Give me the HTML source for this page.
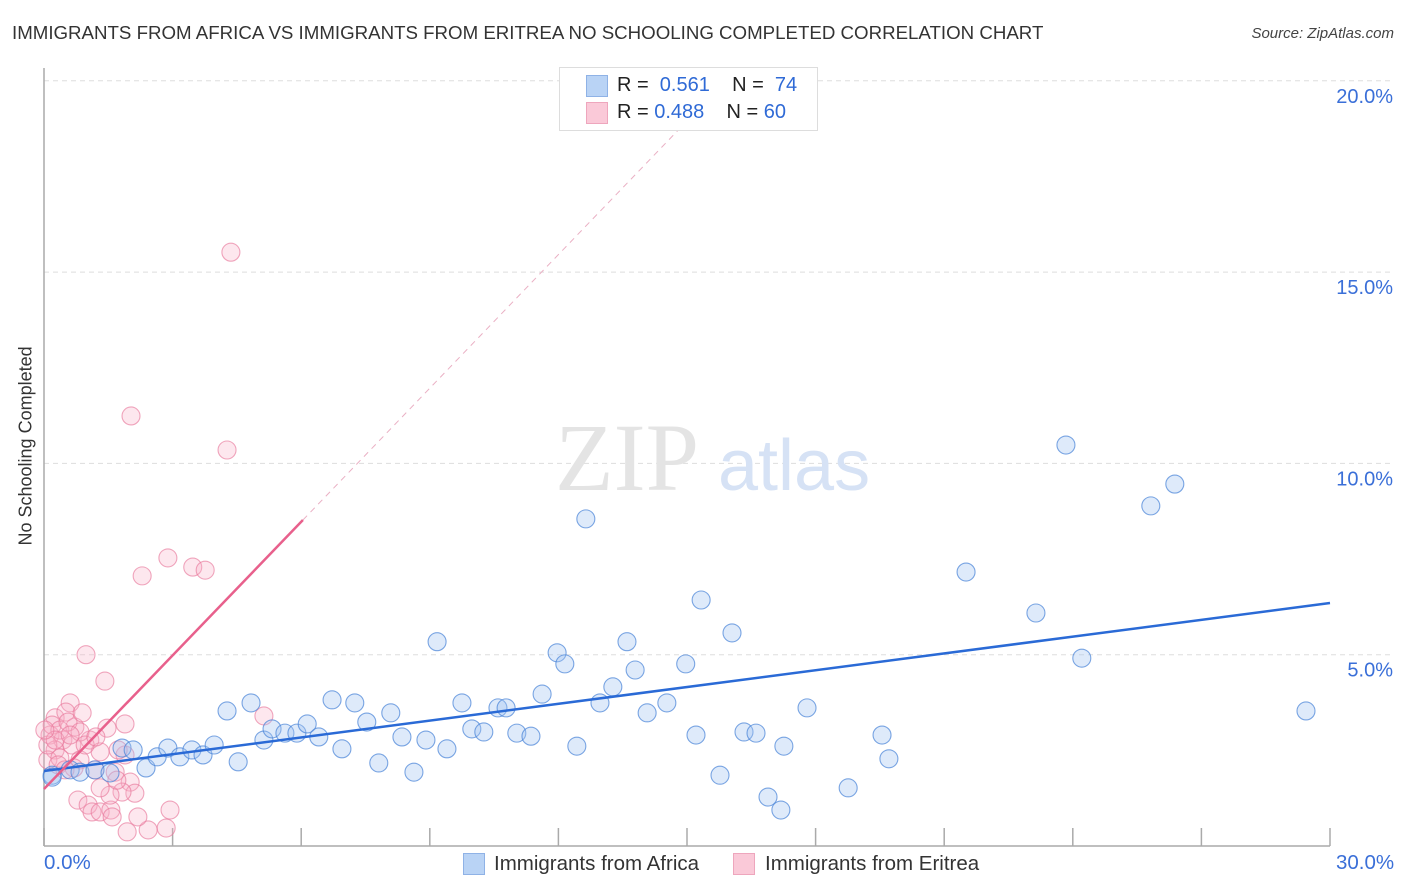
<!DOCTYPE html>
<html><head><meta charset="utf-8">
<style>
body{margin:0;background:#fff;font-family:"Liberation Sans",sans-serif;}
#wrap{position:relative;width:1406px;height:892px;}
.t{position:absolute;white-space:nowrap;}
</style></head>
<body>
<div id="wrap">
<div class="t" style="left:12px;top:22px;font-size:18.7px;color:#333;">IMMIGRANTS FROM AFRICA VS IMMIGRANTS FROM ERITREA NO SCHOOLING COMPLETED CORRELATION CHART</div>
<div class="t" style="right:12px;top:25px;font-size:15px;color:#444;font-style:italic;">Source: ZipAtlas.com</div>
<svg id="svg" width="1406" height="892" style="position:absolute;left:0;top:0"></svg>
</div>
<script>
const xTicks=[0,3,6,9,12,15,18,21,24,27,30];
const yTicks=[5,10,15,20];
const yTickLabels=["5.0%","10.0%","15.0%","20.0%"];
const africaX=[0.19,0.61,0.84,1.19,1.54,1.82,2.08,2.38,2.64,2.89,3.17,3.45,3.71,3.97,4.53,4.27,4.83,5.13,5.32,5.62,5.90,6.14,6.41,6.72,6.95,7.25,7.53,7.81,8.09,8.35,8.63,8.91,9.17,9.40,9.75,9.98,10.26,10.59,10.78,11.03,11.36,11.62,11.97,12.15,12.43,12.64,12.97,13.27,13.60,13.79,14.07,14.53,14.97,15.21,15.33,15.77,16.05,16.33,16.61,16.89,17.19,17.26,17.80,18.76,19.55,19.71,21.51,23.14,23.84,24.21,25.82,26.38,29.44,0.19];
const africaY=[1.85,1.99,1.93,1.99,1.91,2.56,2.51,2.04,2.33,2.56,2.33,2.51,2.38,2.64,2.20,3.53,3.74,2.77,3.06,2.95,2.95,3.19,2.85,3.82,2.54,3.74,3.24,2.17,3.48,2.85,1.93,2.77,5.34,2.54,3.74,3.06,2.98,3.61,3.61,2.95,2.87,3.97,5.05,4.76,2.61,8.55,3.74,4.16,5.34,4.60,3.48,3.74,4.76,2.90,6.43,1.85,5.57,2.98,2.95,1.28,0.94,2.61,3.61,1.52,2.90,2.28,7.16,6.09,10.48,4.91,8.89,9.46,3.53,1.80];
const eritreaX=[4.36,2.03,4.27,2.89,2.29,3.47,3.76,0.98,1.42,0.61,5.13,0.26,0.51,1.47,0.72,0.14,0.44,1.07,0.26,0.65,1.31,1.89,0.09,0.37,0.84,1.19,1.66,0.79,1.03,1.12,1.31,1.56,2.01,2.12,1.82,1.59,1.94,2.43,2.19,2.85,2.94,0.09,0.19,0.37,0.56,0.84,0.96,0.33,0.70,1.54,1.31,1.70,0.49,0.26,0.61,0.02,0.89,1.21,1.73,1.89];
const eritreaY=[15.52,11.24,10.35,7.53,7.06,7.29,7.21,5.00,4.31,3.74,3.40,3.35,3.50,3.08,3.11,2.90,2.77,2.77,2.51,2.64,2.46,2.38,2.25,2.30,2.25,1.99,1.93,1.20,1.07,0.89,0.89,0.94,1.67,1.38,1.41,0.76,0.37,0.42,0.76,0.47,0.94,2.64,3.16,3.03,3.24,2.98,2.64,2.12,2.04,1.33,1.52,1.72,1.99,2.77,2.90,3.03,3.48,2.85,2.51,3.19];
const africaLine=[1.96,6.35];
const eritreaLine=[1.49,1.164];
const X0=44,X1=1330,Y0=846,PY=38.26;
const sx=v=>X0+(v/30)*(X1-X0);
const sy=v=>Y0-v*PY;
const svg=document.getElementById('svg');
const NS='http://www.w3.org/2000/svg';
function mk(tag,at){const e=document.createElementNS(NS,tag);for(const k in at)e.setAttribute(k,at[k]);svg.appendChild(e);return e;}
yTicks.forEach((v,i)=>{
 const g=mk('line',{x1:X0,x2:1392,y1:sy(v),y2:sy(v),stroke:'#ddd','stroke-dasharray':'5,4'});
 
 
 const t=mk('text',{x:1393,y:sy(v)+22,'text-anchor':'end','font-size':20,fill:'#3a6fd8','font-family':'Liberation Sans'});
 t.textContent=yTickLabels[i];
 
 
});
const ya=mk('line',{x1:X0,x2:X0,y1:68,y2:Y0,stroke:'#aaa','stroke-width':1.5});


const xa=mk('line',{x1:X0,x2:X1,y1:Y0,y2:Y0,stroke:'#aaa','stroke-width':1.5});


xTicks.forEach(v=>{
 const l=mk('line',{x1:sx(v),x2:sx(v),y1:Y0,y2:Y0-18,stroke:'#aaa','stroke-width':1.5});
 
 
});
const w1=mk('text',{x:555,y:490,'font-size':96,fill:'#e4e4e4','font-family':'Liberation Serif'});w1.textContent='ZIP';


const w2=mk('text',{x:718,y:490,'font-size':72,fill:'#d6e2f5','font-family':'Liberation Sans'});w2.textContent='atlas';


function pts(xs,ys,fill,stroke,name){xs.forEach((x,i)=>{
 const c=mk('circle',{cx:sx(x),cy:sy(ys[i]),r:9,fill:fill,stroke:stroke,'stroke-width':1.1});
 
 
});}
pts(eritreaX,eritreaY,'rgba(248,175,198,0.3)','rgba(232,120,155,0.65)','eritrea-point');
pts(africaX,africaY,'rgba(160,195,240,0.35)','rgba(70,130,215,0.7)','africa-point');
const bl=mk('line',{x1:sx(0),y1:sy(africaLine[0]),x2:sx(30),y2:sy(africaLine[1]),stroke:'#2a6ad6','stroke-width':2.5});


const xe=6.04;
const pl=mk('line',{x1:sx(0),y1:sy(eritreaLine[0]),x2:sx(xe),y2:sy(eritreaLine[0]+eritreaLine[1]*xe),stroke:'#e8608c','stroke-width':2.5});


const xd=14.8;
const pd=mk('line',{x1:sx(xe),y1:sy(eritreaLine[0]+eritreaLine[1]*xe),x2:sx(xd),y2:sy(eritreaLine[0]+eritreaLine[1]*xd),stroke:'#eab0c4','stroke-width':1,'stroke-dasharray':'6,5'});


</script>
<div class="t" style="left:559px;top:67px;width:257px;height:62px;border:1px solid #ddd;background:#fff;"></div>
<div class="t" style="left:586px;top:75px;width:20px;height:20px;background:#b9d3f5;border:1px solid #8fb2e6;"></div>
<div class="t" style="left:586px;top:102px;width:20px;height:20px;background:#fac9d8;border:1px solid #eea6bd;"></div>
<div class="t" style="left:617px;top:74px;font-size:20px;color:#222;">R = &nbsp;<span style="color:#2f6ad6">0.561</span>&nbsp;&nbsp;&nbsp; N = &nbsp;<span style="color:#2f6ad6">74</span></div>
<div class="t" style="left:617px;top:101px;font-size:20px;color:#222;">R = <span style="color:#2f6ad6">0.488</span>&nbsp;&nbsp;&nbsp; N = <span style="color:#2f6ad6">60</span></div>
<div class="t" style="left:-64px;top:445px;font-size:18px;color:#333;transform:rotate(-90deg);width:180px;text-align:center;">No Schooling Completed</div>
<div class="t" style="left:44px;top:851px;font-size:20.5px;color:#3a6fd8;">0.0%</div>
<div class="t" style="left:1336px;top:851px;font-size:20.5px;color:#3a6fd8;">30.0%</div>
<div class="t" style="left:463px;top:853px;width:20px;height:20px;background:#b9d3f5;border:1px solid #8fb2e6;"></div>
<div class="t" style="left:494px;top:852px;font-size:20.5px;color:#333;">Immigrants from Africa</div>
<div class="t" style="left:733px;top:853px;width:20px;height:20px;background:#fac9d8;border:1px solid #eea6bd;"></div>
<div class="t" style="left:765px;top:852px;font-size:20.5px;color:#333;">Immigrants from Eritrea</div>
</body></html>
